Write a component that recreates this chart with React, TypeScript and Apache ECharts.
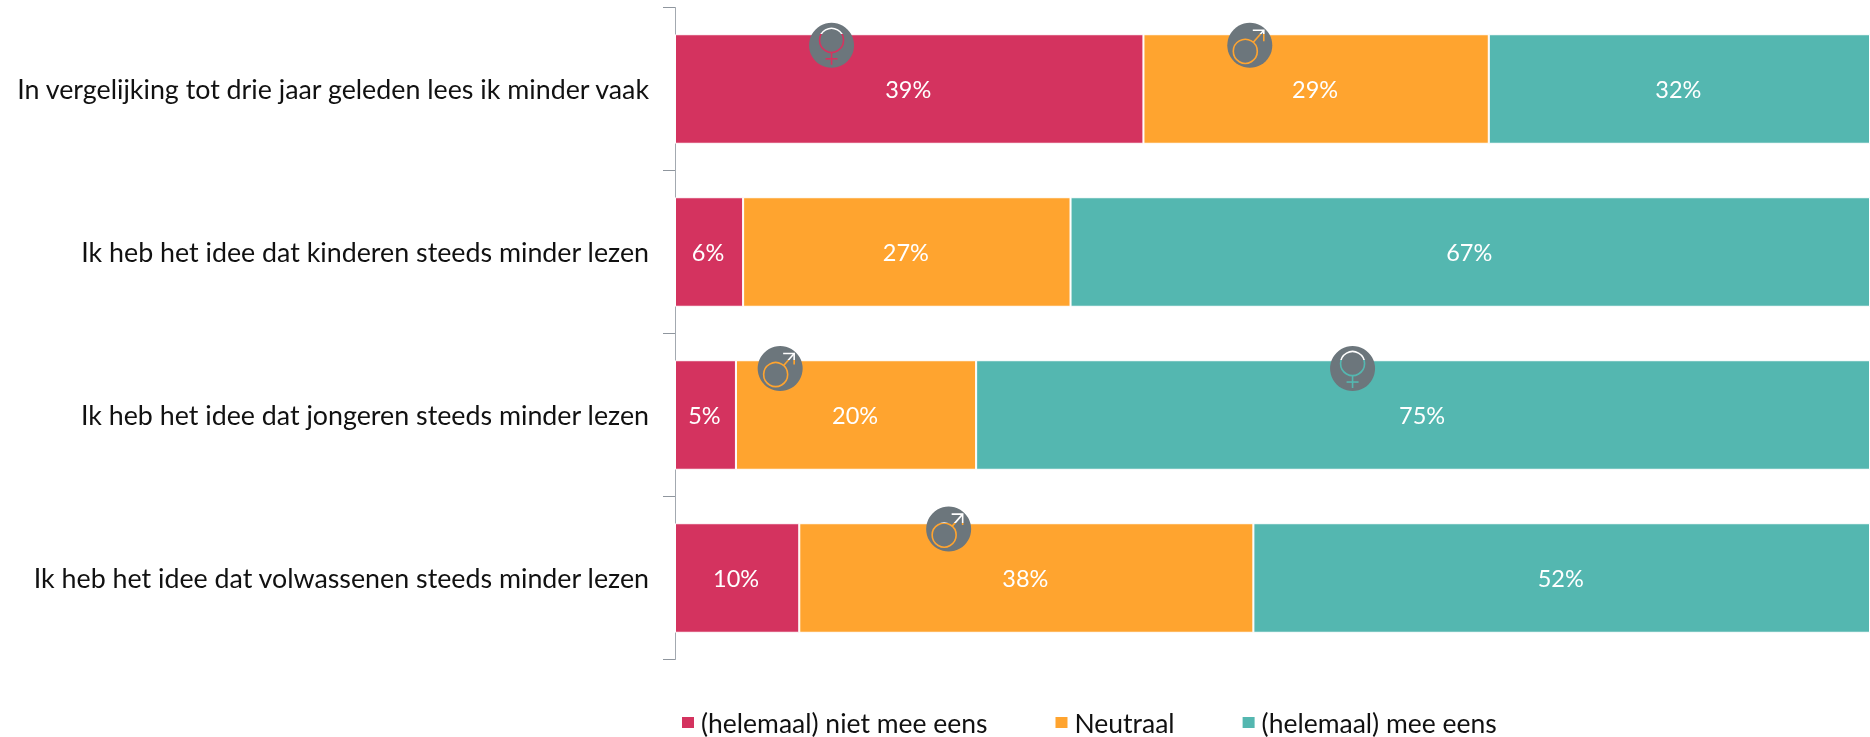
import React, { useEffect, useRef } from "react";
import * as echarts from "echarts";

const categories = [
  "In vergelijking tot drie jaar geleden lees ik minder vaak",
  "Ik heb het idee dat kinderen steeds minder lezen",
  "Ik heb het idee dat jongeren steeds minder lezen",
  "Ik heb het idee dat volwassenen steeds minder lezen",
];
const seriesNames = ["(helemaal) niet mee eens", "Neutraal", "(helemaal) mee eens"];
const disagree = [39.2, 5.7, 5.1, 10.4];
const neutral = [28.9, 27.4, 20.1, 38];
const agree = [31.9, 66.9, 74.8, 51.6];
const colors = ["#D4335F", "#FFA42F", "#54B7B0"];
const iconGrey = "#6C767C";

// [x in %, row, vertical shift as share of a row, gender, series index]
const markers: [number, number, number, string, number][] = [
  [13.1, 0, -0.268, "f", 0],
  [48.1, 0, -0.268, "m", 1],
  [8.8, 2, -0.285, "m", 1],
  [56.7, 2, -0.285, "f", 2],
  [22.9, 3, -0.3, "m", 1],
];

const BAR_SHARE = 0.672;

function renderMarker(params: any, api: any) {
  const m = markers[params.dataIndex];
  const base = api.coord([m[0], m[1]]);
  const band = api.size([0, 1])[1];
  const cx = base[0];
  const cy = base[1] + m[2] * band;
  const top = base[1] - (band * BAR_SHARE) / 2;
  const col = colors[m[4]];
  // The symbol is a cut-out: white above the bar, bar colour over it.
  const stroke = new echarts.graphic.LinearGradient(
    0, top - 100, 0, top + 100,
    [
      { offset: 0, color: "#FFFFFF" },
      { offset: 0.5, color: "#FFFFFF" },
      { offset: 0.5, color: col },
      { offset: 1, color: col },
    ],
    true
  );
  const st = { stroke, lineWidth: 1.6, fill: "none" };
  const children: any[] = [
    { type: "circle", shape: { cx, cy, r: 22.5 }, style: { fill: iconGrey } },
  ];
  if (m[3] === "f") {
    children.push(
      { type: "circle", shape: { cx, cy: cy - 5, r: 12 }, style: st },
      { type: "line", shape: { x1: cx, y1: cy + 7, x2: cx + 0.01, y2: cy + 19.5 }, style: st },
      { type: "line", shape: { x1: cx - 6, y1: cy + 13.5, x2: cx + 6, y2: cy + 13.5 }, style: st }
    );
  } else {
    children.push(
      { type: "circle", shape: { cx: cx - 4.5, cy: cy + 6, r: 12 }, style: st },
      { type: "line", shape: { x1: cx + 3.5, y1: cy - 3, x2: cx + 14, y2: cy - 15 }, style: st },
      { type: "polyline", shape: { points: [[cx + 3, cy - 15], [cx + 14, cy - 15], [cx + 14, cy - 4]] }, style: st }
    );
  }
  return { type: "group", children };
}

export default function App() {
  const ref = useRef<HTMLDivElement>(null);
  useEffect(() => {
    const chart = echarts.init(ref.current!, undefined, { renderer: "svg" });
    const font = "Lato";
    const bar = (i: number, data: number[]) => ({
      name: seriesNames[i],
      type: "bar",
      stack: "t",
      barWidth: BAR_SHARE * 100 + "%",
      data,
      itemStyle: { color: colors[i], borderColor: "#FFFFFF", borderWidth: 1 },
      label: {
        show: true,
        position: "inside",
        offset: [-1, 0],
        color: "#FFFFFF",
        fontFamily: font,
        fontSize: 23.5,
        formatter: (p: any) => Math.round(p.value) + "%",
      },
    });
    chart.setOption({
      animation: false,
      grid: { left: 675, right: 0, top: 7.5, height: 652 },
      xAxis: { type: "value", min: 0, max: 100, show: false },
      yAxis: {
        type: "category",
        inverse: true,
        data: categories,
        axisLine: { show: true, lineStyle: { color: "#A3A9B0", width: 1 } },
        axisTick: { show: true, length: 12, lineStyle: { color: "#8F969E", width: 1 } },
        axisLabel: { color: "#111111", fontFamily: font, fontSize: 26.8, margin: 26 },
      },
      legend: {
        left: 675,
        top: 704,
        padding: [5, 5, 0, 5],
        itemGap: 66,
        itemWidth: 14,
        itemHeight: 13,
        icon: "rect",
        data: seriesNames,
        textStyle: { color: "#111111", fontFamily: font, fontSize: 26.5, padding: [0, 0, 0, 1] },
      },
      series: [
        bar(0, disagree),
        bar(1, neutral),
        bar(2, agree),
        {
          type: "custom",
          renderItem: renderMarker,
          data: markers.map((m) => [m[0], m[1]]),
          encode: { x: 0, y: 1 },
          silent: true,
          z: 5,
          clip: false,
        },
      ],
    });
    return () => chart.dispose();
  }, []);
  return <div ref={ref} style={{ position: "fixed", left: 0, top: 0, width: 1870, height: 737 }} />;
}
